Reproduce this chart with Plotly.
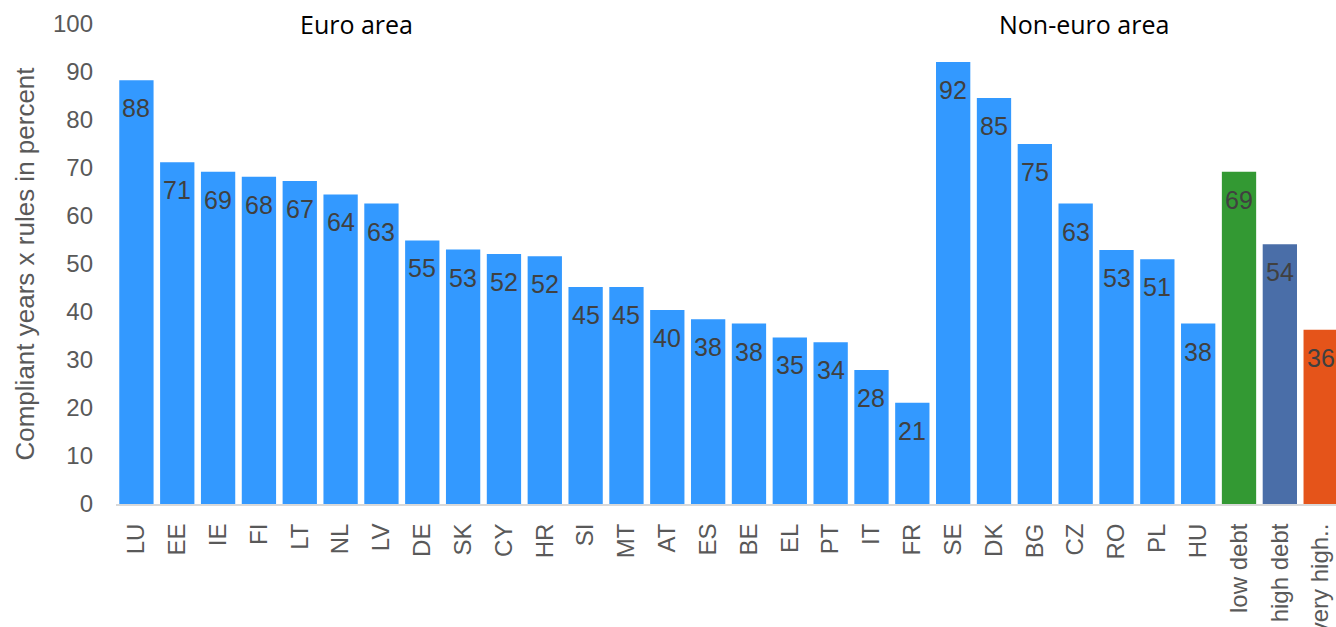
import plotly.graph_objects as go

categories = ["LU", "EE", "IE", "FI", "LT", "NL", "LV", "DE", "SK", "CY", "HR", "SI", "MT",
              "AT", "ES", "BE", "EL", "PT", "IT", "FR", "SE", "DK", "BG", "CZ", "RO", "PL",
              "HU", "low debt", "high debt", "very high.."]
values = [88.3, 71.2, 69.2, 68.2, 67.3, 64.5, 62.6, 54.9, 53.0, 52.1, 51.6, 45.2, 45.2,
          40.4, 38.5, 37.6, 34.7, 33.7, 27.9, 21.1, 92.1, 84.6, 75.0, 62.6, 52.9, 51.0,
          37.6, 69.2, 54.1, 36.3]
labels = ["88", "71", "69", "68", "67", "64", "63", "55", "53", "52", "52", "45", "45",
          "40", "38", "38", "35", "34", "28", "21", "92", "85", "75", "63", "53", "51",
          "38", "69", "54", "36"]
colors = ["#3399FF"] * 27 + ["#339933", "#4A6EA8", "#E5541A"]
group_titles = ["Euro area", "Non-euro area"]
group_centers = [5.4, 23.2]

fig = go.Figure()
fig.add_trace(go.Bar(
    x=categories, y=values, marker=dict(color=colors, line=dict(width=0)),
    width=0.84, hoverinfo="skip",
))

for cat, val, lab in zip(categories, values, labels):
    fig.add_annotation(x=cat, y=val, text=lab, showarrow=False, yanchor="middle",
                       yshift=-28, font=dict(family="Arial, Liberation Sans", size=25, color="#404040"))

for title, cx in zip(group_titles, group_centers):
    fig.add_annotation(x=cx, y=100, text=title, showarrow=False, yanchor="middle",
                       font=dict(family="Open Sans, Carlito, sans-serif", size=25, color="#000000"))

fig.update_layout(
    width=1336, height=627,
    margin=dict(l=116, r=0, t=24, b=123),
    paper_bgcolor="white", plot_bgcolor="white",
    showlegend=False,
    font=dict(family="Arial, Liberation Sans", color="#595959"),
)
fig.update_xaxes(
    range=[-0.5, 29.375], tickangle=-90, showgrid=False, automargin=False,
    showline=True, linecolor="#D9D9D9", linewidth=2,
    tickfont=dict(size=24, color="#595959"), ticks="", ticklabelstandoff=8,
)
fig.update_yaxes(
    range=[0, 100], dtick=10, showgrid=False, zeroline=False, showline=False, automargin=False,
    tickfont=dict(size=24, color="#595959"), ticklabelstandoff=22,
    title=dict(text="Compliant years x rules in percent", font=dict(size=26, color="#595959"),
               standoff=10),
)

fig.write_html("out.html")
